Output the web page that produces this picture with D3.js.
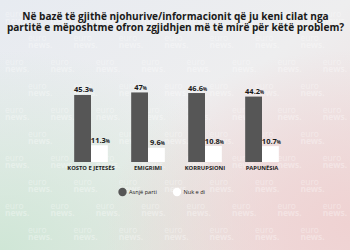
<!DOCTYPE html>
<html><head><meta charset="utf-8">
<script src="https://cdn.jsdelivr.net/npm/d3@7"></script>
<style>html,body{margin:0;padding:0;overflow:hidden;background:#eceef0}</style>
</head><body>
<script>
const categories = ["KOSTO E JETESËS", "EMIGRIMI", "KORRUPSIONI", "PAPUNËSIA"];
const seriesNames = ["Asnjë parti", "Nuk e di"];
const asnjeParti = [45.3, 47, 46.6, 44.2];
const nukEDi = [11.3, 9.6, 10.8, 10.7];
const valueLabels = [["45.3", "11.3"], ["47", "9.6"], ["46.6", "10.8"], ["44.2", "10.7"]];
const titleLines = ["Në bazë të gjithë njohurive/informacionit që ju keni cilat nga",
                    "partitë e mëposhtme ofron zgjidhjen më të mirë për këtë problem?"];
const watermarkWords = ["euro", "news."];
const colors = ["#565656", "#ffffff"];

const W = 350, H = 250;
const FONT = "'Open Sans', 'DejaVu Sans', sans-serif";
const svg = d3.select("body").append("svg").attr("width", W).attr("height", H);
const defs = svg.append("defs");

// background
const lg = defs.append("linearGradient").attr("id","bg").attr("x1","0").attr("y1","0").attr("x2","1").attr("y2","1");
lg.append("stop").attr("offset","0").attr("stop-color","#e7ebf1");
lg.append("stop").attr("offset","0.5").attr("stop-color","#eeeeef");
lg.append("stop").attr("offset","1").attr("stop-color","#efdcdc");
svg.append("rect").attr("width",W).attr("height",H).attr("fill","url(#bg)");
const rg1 = defs.append("radialGradient").attr("id","gr").attr("cx","0").attr("cy","1").attr("r","0.8");
rg1.append("stop").attr("offset","0").attr("stop-color","#cfe6d6").attr("stop-opacity",1);
rg1.append("stop").attr("offset","1").attr("stop-color","#cfe6d6").attr("stop-opacity",0);
svg.append("rect").attr("width",W).attr("height",H).attr("fill","url(#gr)");
const rg2 = defs.append("radialGradient").attr("id","pk").attr("cx","1").attr("cy","0.9").attr("r","0.7");
rg2.append("stop").attr("offset","0").attr("stop-color","#efd2d2").attr("stop-opacity",1);
rg2.append("stop").attr("offset","1").attr("stop-color","#efd2d2").attr("stop-opacity",0);
svg.append("rect").attr("width",W).attr("height",H).attr("fill","url(#pk)");

// watermark grid
const wm = svg.append("g").attr("fill","#ffffff").attr("opacity",0.32)
  .attr("font-family","'Noto Sans', sans-serif").attr("font-size",8.5);
for (let r = 0; r < 10; r++) {
  for (let c = 0; c < 8; c++) {
    const x = c * 45.4 + (r % 2 ? 28 : 5);
    const yy = 17 + r * 24;
    if (x + 24 > W || yy + 9 > H) continue;
    wm.append("text").attr("x", x).attr("y", yy).text(watermarkWords[0]);
    wm.append("text").attr("x", x).attr("y", yy + 7).attr("font-weight","bold").text(watermarkWords[1]);
  }
}

// title
svg.append("g").selectAll("text").data(titleLines).join("text")
  .attr("x", 175.5).attr("y", (d,i) => 19.5 + i * 11)
  .attr("text-anchor","middle").attr("font-family",FONT)
  .attr("font-weight","bold").attr("font-size",10.1).attr("fill","#1a1a1a").text(d => d);

// scales
const x0 = d3.scaleBand().domain(categories).range([62.5, 290.5]).paddingInner(0.41).paddingOuter(0.205);
const x1 = d3.scaleBand().domain(seriesNames).range([0, x0.bandwidth()]);
const y = d3.scaleLinear().domain([0, 50]).range([162, 88]);

const groups = svg.append("g").selectAll("g").data(categories).join("g")
  .attr("transform", d => `translate(${x0(d)},0)`);

groups.each(function(cat, i) {
  const g = d3.select(this);
  const vals = [asnjeParti[i], nukEDi[i]];
  vals.forEach((v, j) => {
    const bx = x1(seriesNames[j]);
    g.append("rect").attr("x", bx).attr("y", y(v)).attr("width", x1.bandwidth())
      .attr("height", y(0) - y(v)).attr("fill", colors[j]);
    const t = g.append("text").attr("x", bx + x1.bandwidth()/2 + 1).attr("y", y(v) - 2.5)
      .attr("text-anchor","middle").attr("font-family",FONT)
      .attr("font-weight","bold").attr("fill","#1a1a1a");
    t.append("tspan").attr("font-size",7.5).text(valueLabels[i][j]);
    t.append("tspan").attr("font-size",4.5).text("%");
  });
});

// category axis labels
const xAxis = d3.axisBottom(x0).tickSize(0).tickPadding(0);
const ax = svg.append("g").attr("transform","translate(0,162)").call(xAxis);
ax.select(".domain").remove();
ax.selectAll("text").attr("dy", "7.8").attr("font-family",FONT)
  .attr("font-weight","bold").attr("font-size",5.8).attr("fill","#1a1a1a");

// legend
const leg = svg.append("g").attr("font-family",FONT);
const legX = [122.5, 177];
seriesNames.forEach((n, j) => {
  leg.append("circle").attr("cx", legX[j]).attr("cy", 192).attr("r", 4.2).attr("fill", colors[j]);
  leg.append("text").attr("x", legX[j] + 6.5).attr("y", 194).attr("font-size",5.6)
    .attr("fill","#1a1a1a").text(n);
});
</script>
</body></html>
